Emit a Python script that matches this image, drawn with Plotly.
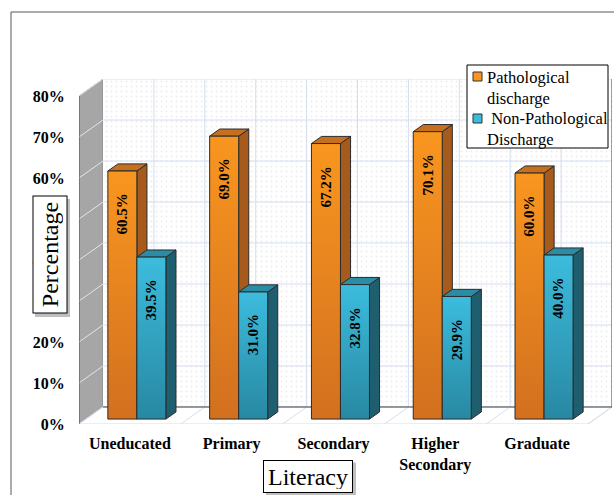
import plotly.graph_objects as go

# ---- data -------------------------------------------------------------
categories = ["Uneducated", "Primary", "Secondary", "Higher<br>Secondary", "Graduate"]
pathological = [60.5, 69.0, 67.2, 70.1, 60.0]
non_pathological = [39.5, 31.0, 32.8, 29.9, 40.0]
series_names = ["Pathological<br>discharge", " Non-Pathological<br>Discharge"]
y_ticks = [0, 10, 20, 30, 40, 50, 60, 70, 80]
y_tick_labels = [f"{t}%" for t in y_ticks]

# ---- 3-D look: oblique projection of a depth axis ----------------------
W, H = 614, 495
ML, MR, MT, MB = 79, 2, 79, 71
DX, DY = 0.236, 4.15          # full depth offset in axis units
Z0, Z1 = 0.29, 0.71           # depth span occupied by the bars
BW = 0.285                    # width of one bar (category units)
YMAX = 80
N = len(categories)
FONT = "Liberation Serif"

series = [
    dict(values=pathological, top="#F9961F", bot="#D2701F", side="#A65B1C", cap="#C4701F"),
    dict(values=non_pathological, top="#3CBCDD", bot="#2888A2", side="#1F5E6E", cap="#2B8CA6"),
]
EDGE = "#2b2b2b"
GRID = "#d3def0"


def proj(x, y, z):
    return x + z * DX, y + z * DY


def closed(pts):
    xs, ys = zip(*[proj(*p) for p in pts])
    return list(xs) + [xs[0]], list(ys) + [ys[0]]


def segs(pairs):
    xs, ys = [], []
    for a, b in pairs:
        pa, pb = proj(*a), proj(*b)
        xs += [pa[0], pb[0], None]
        ys += [pa[1], pb[1], None]
    return xs, ys


def px_x(px):
    return (px - ML) / (W - ML - MR)


def px_y(py):
    return (H - MB - py) / (H - MT - MB)


fig = go.Figure()


def add_poly(pts, fillcolor, line_color, line_width=1, **kw):
    xs, ys = closed(pts)
    fig.add_trace(go.Scatter(
        x=xs, y=ys, mode="lines", fill="toself", fillcolor=fillcolor,
        line=dict(color=line_color, width=line_width),
        hoverinfo="skip", showlegend=False, **kw))


def add_lines(pairs, color, width=1):
    xs, ys = segs(pairs)
    fig.add_trace(go.Scatter(
        x=xs, y=ys, mode="lines", line=dict(color=color, width=width),
        hoverinfo="skip", showlegend=False))


# walls and floor
add_poly([(0, 0, 0), (0, YMAX, 0), (0, YMAX, 1), (0, 0, 1)], "#a6a6a6", "#8a8a8a")
add_poly([(0, 0, 1), (N, 0, 1), (N, YMAX, 1), (0, YMAX, 1)], "white", "rgba(0,0,0,0)", 0,
         fillpattern=dict(shape=".", fgcolor="#d9d9d9", bgcolor="white", size=5, solidity=0.12))
add_poly([(0, 0, 0), (N, 0, 0), (N, 0, 1), (0, 0, 1)], "white", GRID)

# gridlines
add_lines([((0, v, 1), (N, v, 1)) for v in y_ticks[1:]], GRID)
add_lines([((k / 2, 0, 1), (k / 2, YMAX, 1)) for k in range(1, 2 * N)], GRID)
add_lines([((0, v, 0), (0, v, 1)) for v in y_ticks[1:]], "#dfe6f0")
add_lines([((k, 0, 0), (k, 0, 1)) for k in range(0, N + 1)], GRID)
add_lines([((0, 0, 1), (N, 0, 1)), ((N, 0, 1), (N, YMAX, 1))], "#404040")
add_lines([((0, 0, 0), (0, YMAX, 0))], "#555555")

# bars
annotations = []
for i in range(N):
    c = i + 0.5
    for j, s in enumerate(series):
        v = s["values"][i]
        x0 = c - BW + j * BW
        x1 = x0 + BW
        add_poly([(x1, 0, Z0), (x1, 0, Z1), (x1, v, Z1), (x1, v, Z0)], s["side"], EDGE)
        add_poly([(x0, v, Z0), (x1, v, Z0), (x1, v, Z1), (x0, v, Z1)], s["cap"], EDGE)
        xs, ys = closed([(x0, 0, Z0), (x1, 0, Z0), (x1, v, Z0), (x0, v, Z0)])
        fig.add_trace(go.Scatter(
            x=xs, y=ys, mode="lines", fill="toself",
            fillgradient=dict(type="vertical", colorscale=[[0, s["bot"]], [1, s["top"]]]),
            line=dict(color=EDGE, width=1), hoverinfo="skip", showlegend=False))
        lx, ly = proj(x0 + BW / 2, v - 10.5, Z0)
        annotations.append(dict(
            x=lx, y=ly, xref="x", yref="y", text=f"{v:.1f}%", showarrow=False,
            textangle=-90, xanchor="center", yanchor="middle",
            font=dict(family=FONT, size=15, color="black", weight="bold")))

# legend box
shapes = [
    dict(type="rect", xref="paper", yref="paper", x0=px_x(11), y0=px_y(12), x1=px_x(640),
         y1=px_y(520), line=dict(color="#595959", width=1), layer="below"),
    dict(type="rect", xref="paper", yref="paper", x0=px_x(467), y0=px_y(65), x1=px_x(608),
         y1=px_y(148), line=dict(color="black", width=1), fillcolor="white", layer="above"),
]
for j, (s, (sy, ty)) in enumerate(zip(series, [(72, 66), (114, 107)])):
    shapes.append(dict(type="rect", xref="paper", yref="paper", x0=px_x(473), x1=px_x(482),
                       y0=px_y(sy), y1=px_y(sy + 9), fillcolor=s["top"],
                       line=dict(color="#333333", width=1), layer="above"))
    annotations.append(dict(
        x=px_x(485), y=px_y(ty), xref="paper", yref="paper", text=series_names[j],
        showarrow=False, xanchor="left", yanchor="top", align="left",
        font=dict(family=FONT, size=16.5, color="black")))

# boxed axis titles with a soft shadow
for (cx, cy, bw, bh, text, angle) in [(49.5, 255, 35, 118, "Percentage", -90),
                                       (308, 476, 90, 33, "Literacy", 0)]:
    shapes.append(dict(type="rect", xref="paper", yref="paper",
                       x0=px_x(cx - bw / 2 + 3), x1=px_x(cx + bw / 2 + 3),
                       y0=px_y(cy - bh / 2 + 3), y1=px_y(cy + bh / 2 + 3),
                       fillcolor="#bfbfbf", line=dict(width=0), layer="above"))
    bwid, bhgt = (bh, bw) if angle else (bw, bh)
    annotations.append(dict(
        x=px_x(cx), y=px_y(cy), xref="paper", yref="paper", text=text, showarrow=False,
        textangle=angle, xanchor="center", yanchor="middle",
        width=bwid - 8, height=bhgt - 8, borderpad=3, bordercolor="black", borderwidth=1,
        bgcolor="white", font=dict(family=FONT, size=24, color="black")))

fig.update_layout(
    width=W, height=H, margin=dict(l=ML, r=MR, t=MT, b=MB),
    paper_bgcolor="white", plot_bgcolor="white", showlegend=False,
    shapes=shapes, annotations=annotations,
    xaxis=dict(range=[0, N + DX], showgrid=False, zeroline=False, showline=False,
               tickvals=[i + 0.5 for i in range(N)], ticktext=categories,
               ticks="outside", ticklen=5, tickcolor="rgba(0,0,0,0)",
               tickfont=dict(family=FONT, size=16, color="black", weight="bold")),
    yaxis=dict(range=[0, YMAX + DY], showgrid=False, zeroline=False, showline=False,
               tickvals=y_ticks, ticktext=y_tick_labels,
               ticks="outside", ticklen=10, tickcolor="rgba(0,0,0,0)",
               tickfont=dict(family=FONT, size=16, color="black", weight="bold")),
)

fig.write_html("out.html")
